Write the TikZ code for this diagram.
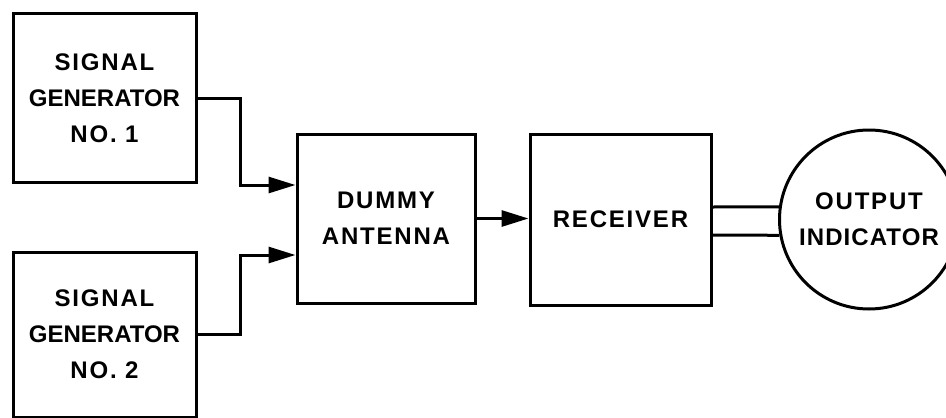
\documentclass[tikz,border=0pt]{standalone}
\usepackage{fontspec}
\usetikzlibrary{arrows.meta}
\newfontfamily\lab{Liberation Sans}[LetterSpace=7.5]
\newfontfamily\labn{Liberation Sans}[LetterSpace=0]
\newfontfamily\labi{Liberation Sans}[LetterSpace=4.5]
\begin{document}
\begin{tikzpicture}[x=1pt,y=-1pt,
  box/.style={draw, line width=3pt, inner sep=0pt, align=center,
    font=\lab\bfseries\fontsize{24}{36}\selectfont},
  wire/.style={line width=3pt},
  arr/.style={wire, -{Triangle[length=27pt,width=16pt]}}]
\fill[white] (0,0) rectangle (946,418);
\useasboundingbox (0,0) rectangle (946,418);
\node[box, minimum width=183pt, minimum height=169pt] (sg1) at (104.5,98) {SIGNAL\\{\labn GENERATOR}\\NO. 1};
\node[box, minimum width=183pt, minimum height=165pt] (sg2) at (104.5,334.5) {SIGNAL\\{\labn GENERATOR}\\NO. 2};
\node[box, minimum width=178pt, minimum height=169pt] (da) at (386,218.5) {DUMMY\\ANTENNA};
\node[box, minimum width=181pt, minimum height=171pt] (rx) at (620.5,219.5) {RECEIVER};
\node[box, circle, minimum size=179pt] (oi) at (869,219.5) {OUTPUT\\{\labi INDICATOR}};
\draw[arr] (sg1.east) -- ++(43,0) |- ([yshift=33.5pt]da.west);
\draw[arr] (sg2.east) -- ++(43,0) |- ([yshift=-36.5pt]da.west);
\draw[arr] (da.east) -- (da.east -| rx.west);
\draw[wire] ([yshift=12.5pt]rx.east) -- (oi.172);
\draw[wire] ([yshift=-15.5pt]rx.east) -- (oi.190);
\end{tikzpicture}
\end{document}
